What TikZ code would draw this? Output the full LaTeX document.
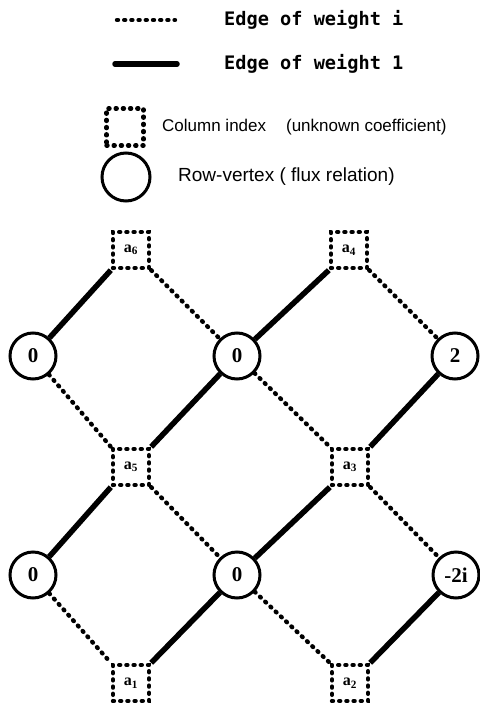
\documentclass[tikz,border=0pt]{standalone}
\usepackage{fontspec}
\setmainfont{Liberation Serif}
\newfontfamily\legmono{DejaVu Sans Mono}
\newfontfamily\legsans{Liberation Sans}
\begin{document}
\begin{tikzpicture}[x=1pt,y=-1pt,
  colnode/.style={draw, rectangle, minimum size=36pt, inner sep=0pt,
    line width=4.4pt, dash pattern=on 1pt off 6.2pt, line cap=round,
    font=\bfseries\fontsize{16}{16}\selectfont},
  rownode/.style={draw, circle, minimum size=46pt, inner sep=0pt,
    line width=3pt, font=\bfseries\fontsize{21}{21}\selectfont},
  wone/.style={line width=5.5pt},
  wi/.style={line width=4.4pt, dash pattern=on 1pt off 6.2pt, line cap=round},
  legtt/.style={anchor=west, inner sep=0pt, font=\legmono\bfseries\fontsize{18.6}{19}\selectfont},
  legsf/.style={anchor=west, inner sep=0pt, font=\legsans\fontsize{17}{18}\selectfont}]
\useasboundingbox (0,0) rectangle (479,703);

% legend
\coordinate (l1a) at (117,20); \coordinate (l1b) at (175,20);
\draw[wi] (l1a) -- (l1b);
\node[legtt] (t1) at (224,20) {Edge of weight i};
\coordinate (l2a) at (115,64); \coordinate (l2b) at (177,64);
\draw[wone, line cap=round] (l2a) -- (l2b);
\node[legtt] (t2) at (224,64) {Edge of weight 1};
\node[colnode, minimum size=37pt] (lsq) at (125,127) {};
\node[legsf] (t3) at (162,127) {Column index\hspace{20pt}(unknown coefficient)};
\node[rownode, minimum size=48pt] (lci) at (126,177) {};
\node[legsf, font=\legsans\fontsize{19}{20}\selectfont] (t4) at (178,177) {Row-vertex ( flux relation)};

% column vertices
\node[colnode] (a6) at (131,250) {a\textsubscript{6}};
\node[colnode] (a4) at (349,250) {a\textsubscript{4}};
\node[colnode] (a5) at (131,467) {a\textsubscript{5}};
\node[colnode] (a3) at (350,467) {a\textsubscript{3}};
\node[colnode] (a1) at (131,683) {a\textsubscript{1}};
\node[colnode] (a2) at (350,683) {a\textsubscript{2}};

% row vertices
\node[rownode] (c11) at (33,356) {0};
\node[rownode] (c12) at (237,356) {0};
\node[rownode] (c13) at (455,356) {2};
\node[rownode] (c21) at (33,575) {0};
\node[rownode] (c22) at (237,575) {0};
\node[rownode] (c23) at (456,575) {-2i};

% edges
\draw[wone] (c11) -- (a6.south west);
\draw[wi] (a6.south east) -- (c12);
\draw[wone] (c12) -- (a4.south west);
\draw[wi] (a4.south east) -- (c13);
\draw[wi] (c11) -- (a5.north west);
\draw[wone] (c12) -- (a5.north east);
\draw[wi] (c12) -- (a3.north west);
\draw[wone] (c13) -- (a3.north east);
\draw[wone] (c21) -- (a5.south west);
\draw[wi] (a5.south east) -- (c22);
\draw[wone] (c22) -- (a3.south west);
\draw[wi] (a3.south east) -- (c23);
\draw[wi] (c21) -- (a1.north west);
\draw[wone] (c22) -- (a1.north east);
\draw[wi] (c22) -- (a2.north west);
\draw[wone] (c23) -- (a2.north east);
\end{tikzpicture}
\end{document}
